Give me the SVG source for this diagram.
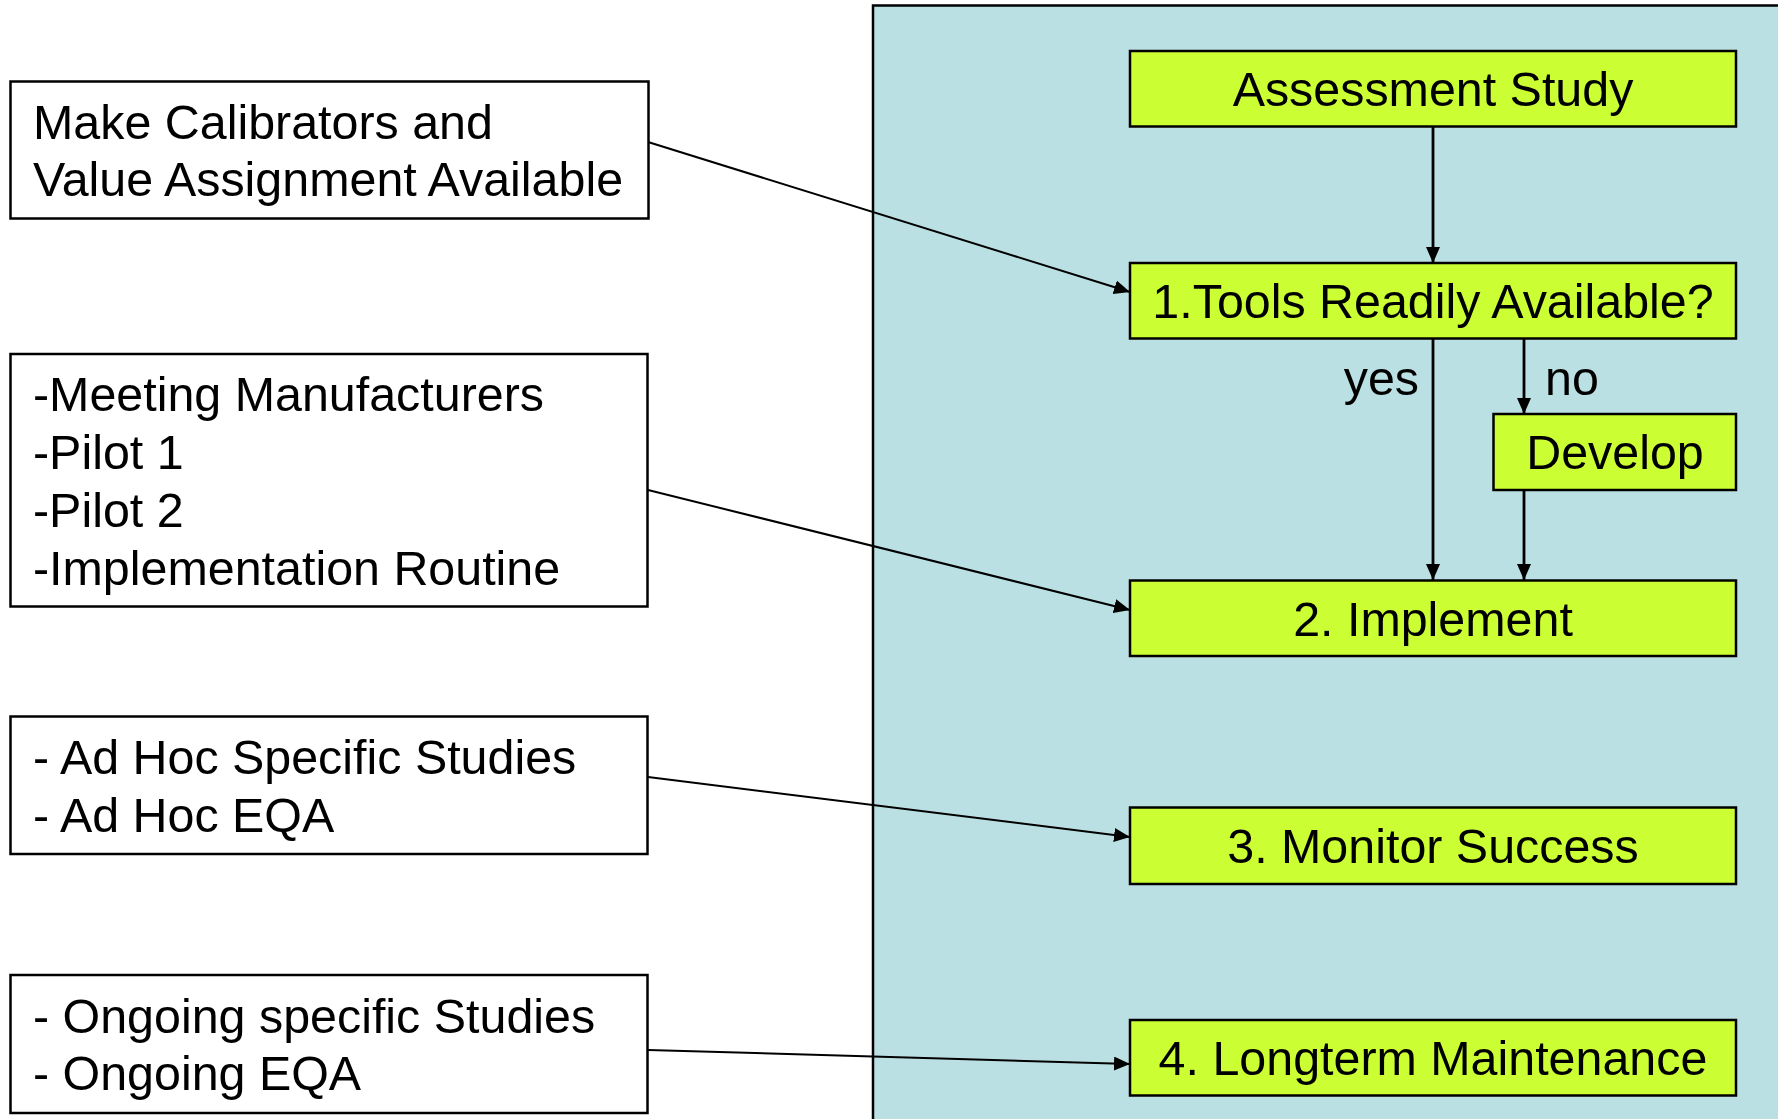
<svg xmlns="http://www.w3.org/2000/svg" width="1778" height="1119" viewBox="0 0 1778 1119">
<defs>
<style>
text{font-family:"Liberation Sans",Arial,sans-serif;font-size:48.4px;fill:#000}
.note{fill:#fff;stroke:#000;stroke-width:2.5}
.step{fill:#CCFF33;stroke:#000;stroke-width:2.5}
.c{text-anchor:middle}
.conn{stroke:#000;stroke-width:2;fill:none}
.flow{stroke:#000;stroke-width:2.8;fill:none}
</style>
<marker id="ah" viewBox="0 0 16 14" refX="16" refY="7" markerWidth="16" markerHeight="14" markerUnits="userSpaceOnUse" orient="auto">
<path d="M0,0 L16,7 L0,14 Z" fill="#000"/>
</marker>
</defs>
<rect width="1778" height="1119" fill="#fff"/>
<rect id="panel" x="873" y="5.5" width="910" height="1120" fill="#BBE0E3" stroke="#000" stroke-width="2.5"/>

<g id="connectors">
<line class="conn" x1="648" y1="142" x2="1130" y2="292" marker-end="url(#ah)"/>
<line class="conn" x1="648" y1="490" x2="1130" y2="610" marker-end="url(#ah)"/>
<line class="conn" x1="648" y1="777" x2="1130" y2="837" marker-end="url(#ah)"/>
<line class="conn" x1="648" y1="1050" x2="1130" y2="1064" marker-end="url(#ah)"/>
<line class="flow" x1="1433" y1="126" x2="1433" y2="263" marker-end="url(#ah)"/>
<line class="flow" x1="1433" y1="339" x2="1433" y2="580" marker-end="url(#ah)"/>
<line class="flow" x1="1524" y1="339" x2="1524" y2="414" marker-end="url(#ah)"/>
<line class="flow" x1="1524" y1="490" x2="1524" y2="580" marker-end="url(#ah)"/>
<text x="1419" y="395" text-anchor="end">yes</text>
<text x="1545" y="395">no</text>
</g>

<g id="note1">
<rect class="note" x="10.5" y="81.5" width="638" height="137"/>
<text x="33" y="139">Make Calibrators and</text>
<text x="33" y="196">Value Assignment Available</text>
</g>
<g id="note2">
<rect class="note" x="10.5" y="354" width="637" height="252.5"/>
<text x="33" y="411">-Meeting Manufacturers</text>
<text x="33" y="469">-Pilot 1</text>
<text x="33" y="527">-Pilot 2</text>
<text x="33" y="585">-Implementation Routine</text>
</g>
<g id="note3">
<rect class="note" x="10.5" y="716.5" width="637" height="137.5"/>
<text x="33" y="774">- Ad Hoc Specific Studies</text>
<text x="33" y="832">- Ad Hoc EQA</text>
</g>
<g id="note4">
<rect class="note" x="10.5" y="975" width="637" height="138"/>
<text x="33" y="1033">- Ongoing specific Studies</text>
<text x="33" y="1090">- Ongoing EQA</text>
</g>

<g id="assessment">
<rect class="step" x="1130" y="51" width="606" height="75.5"/>
<text class="c" x="1433" y="106">Assessment Study</text>
</g>
<g id="tools">
<rect class="step" x="1130" y="263" width="606" height="75.5"/>
<text class="c" x="1433" y="318">1.Tools Readily Available?</text>
</g>
<g id="develop">
<rect class="step" x="1493.5" y="414" width="242.5" height="76"/>
<text class="c" x="1615" y="469">Develop</text>
</g>
<g id="implement">
<rect class="step" x="1130" y="580.5" width="606" height="75.5"/>
<text class="c" x="1433" y="636">2. Implement</text>
</g>
<g id="monitor">
<rect class="step" x="1130" y="807.5" width="606" height="76.5"/>
<text class="c" x="1433" y="863">3. Monitor Success</text>
</g>
<g id="longterm">
<rect class="step" x="1130" y="1020" width="606" height="75.5"/>
<text class="c" x="1433" y="1075">4. Longterm Maintenance</text>
</g>
</svg>
